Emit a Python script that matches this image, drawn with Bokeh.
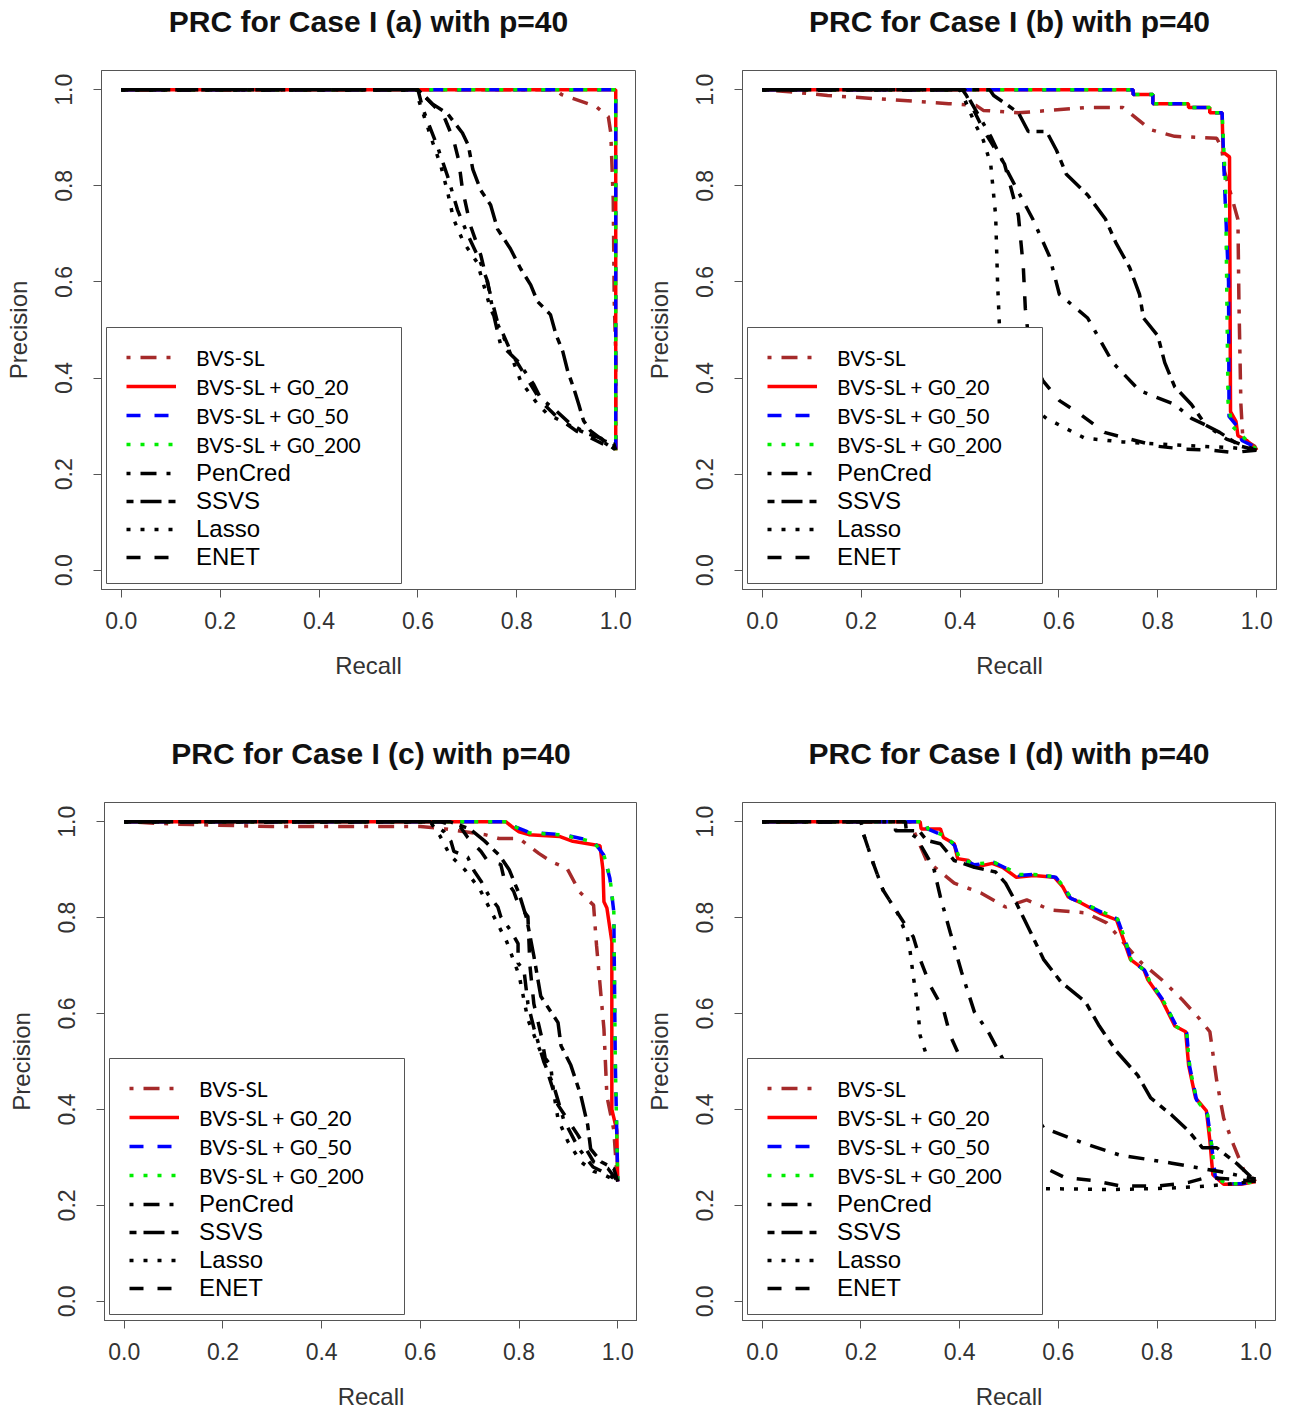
from bokeh.embed import file_html
from bokeh.layouts import column, row
from bokeh.models import (BoxAnnotation, ColumnDataSource, FixedTicker, Legend, LegendItem,
                          LinearAxis, PrintfTickFormatter, Range1d)
from bokeh.plotting import figure
from bokeh.resources import INLINE

# ---------------------------------------------------------------------------
# Precision-recall curves, one list of (recall, precision) points per method.
# ---------------------------------------------------------------------------
METHODS = ["BVS-SL", "BVS-SL + G0_20", "BVS-SL + G0_50", "BVS-SL + G0_200",
           "PenCred", "SSVS", "Lasso", "ENET"]

TITLES = ["PRC for Case I (a) with p=40", "PRC for Case I (b) with p=40",
          "PRC for Case I (c) with p=40", "PRC for Case I (d) with p=40"]

TICKS = [0.0, 0.2, 0.4, 0.6, 0.8, 1.0]
X_LABEL = "Recall"
Y_LABEL = "Precision"

# ---- Case I (a) ----
A_BVS = [(0, 1), (0.88, 1), (0.89, 0.99), (0.96, 0.965), (0.985, 0.944), (0.99, 0.91),
         (0.995, 0.77), (0.997, 0.56), (1.0, 0.45), (1.0, 0.25)]
A_G20 = [(0, 1), (1.0, 1), (1.0, 0.25)]
A_G50 = [(0, 1), (1.0, 1), (1.0, 0.25)]
A_G200 = [(0, 1), (1.0, 1), (1.0, 0.25)]
A_PEN = [(0, 1), (0.6, 1), (0.61, 0.96), (0.64, 0.88), (0.66, 0.82), (0.68, 0.75), (0.70, 0.70),
         (0.725, 0.645), (0.741, 0.6), (0.753, 0.532), (0.767, 0.47), (0.802, 0.435),
         (0.834, 0.387), (0.848, 0.358), (0.874, 0.337), (0.909, 0.304), (0.943, 0.284),
         (0.97, 0.275), (1.0, 0.25)]
A_SSVS = [(0, 1), (0.6, 1), (0.63, 0.97), (0.66, 0.95), (0.69, 0.91), (0.702, 0.884),
          (0.711, 0.834), (0.727, 0.791), (0.747, 0.76), (0.761, 0.71), (0.787, 0.669),
          (0.808, 0.627), (0.828, 0.594), (0.842, 0.559), (0.868, 0.532), (0.879, 0.491),
          (0.893, 0.455), (0.903, 0.414), (0.915, 0.379), (0.925, 0.346), (0.935, 0.311),
          (0.949, 0.29), (0.975, 0.27), (0.996, 0.263), (1.0, 0.25)]
A_LASSO = [(0, 1), (0.6, 1), (0.601, 0.98), (0.63, 0.89), (0.646, 0.843), (0.66, 0.787),
           (0.672, 0.731), (0.692, 0.683), (0.72, 0.64), (0.747, 0.544), (0.78, 0.47),
           (0.808, 0.393), (0.842, 0.346), (0.862, 0.325), (0.889, 0.311), (0.929, 0.29),
           (0.97, 0.27), (1.0, 0.25)]
A_ENET = [(0, 1), (0.6, 1), (0.626, 0.973), (0.652, 0.946), (0.672, 0.896), (0.682, 0.855),
          (0.69, 0.793), (0.706, 0.718), (0.727, 0.656), (0.745, 0.58), (0.76, 0.52),
          (0.79, 0.45), (0.82, 0.40), (0.85, 0.35), (0.88, 0.32), (0.92, 0.29), (0.96, 0.27),
          (1.0, 0.25)]

# ---- Case I (b) ----
B_BVS = [(0, 1), (0.055, 0.996), (0.132, 0.988), (0.251, 0.98), (0.377, 0.971), (0.433, 0.967),
         (0.447, 0.957), (0.518, 0.952), (0.658, 0.963), (0.729, 0.963), (0.743, 0.952),
         (0.785, 0.917), (0.834, 0.903), (0.919, 0.899), (0.929, 0.88), (0.935, 0.83),
         (0.962, 0.73), (0.964, 0.56), (0.968, 0.345), (0.972, 0.273), (0.996, 0.258), (1.0, 0.25)]
B_G20 = [(0, 1), (0.75, 1), (0.75, 0.99), (0.79, 0.99), (0.79, 0.971), (0.862, 0.971),
         (0.862, 0.963), (0.905, 0.963), (0.905, 0.952), (0.93, 0.952), (0.932, 0.87),
         (0.945, 0.86), (0.947, 0.33), (0.958, 0.31), (0.962, 0.28), (0.98, 0.27), (1.0, 0.25)]
B_G50 = [(0, 1), (0.75, 1), (0.75, 0.99), (0.79, 0.99), (0.79, 0.971), (0.862, 0.971),
         (0.862, 0.963), (0.905, 0.963), (0.905, 0.952), (0.93, 0.952), (0.935, 0.8),
         (0.943, 0.6), (0.944, 0.32), (0.96, 0.30), (0.97, 0.27), (1.0, 0.255)]
B_G200 = [(0, 1), (0.75, 1), (0.75, 0.99), (0.79, 0.99), (0.79, 0.971), (0.862, 0.971),
          (0.862, 0.963), (0.905, 0.963), (0.905, 0.952), (0.93, 0.952), (0.937, 0.8),
          (0.942, 0.35), (0.95, 0.3), (0.97, 0.28), (1.0, 0.25)]
B_PEN = [(0, 1), (0.41, 1), (0.419, 0.98), (0.462, 0.903), (0.496, 0.83), (0.547, 0.731),
         (0.581, 0.653), (0.601, 0.574), (0.658, 0.525), (0.709, 0.432), (0.763, 0.374),
         (0.834, 0.345), (0.868, 0.316), (0.897, 0.302), (0.939, 0.273), (1.0, 0.25)]
B_SSVS = [(0, 1), (0.46, 1), (0.468, 0.988), (0.518, 0.952), (0.538, 0.913), (0.575, 0.913),
          (0.595, 0.874), (0.615, 0.824), (0.658, 0.781), (0.694, 0.731), (0.715, 0.682),
          (0.743, 0.63), (0.763, 0.574), (0.771, 0.525), (0.8, 0.488), (0.814, 0.432),
          (0.834, 0.382), (0.868, 0.345), (0.897, 0.302), (0.925, 0.287), (0.968, 0.258),
          (1.0, 0.25)]
B_LASSO = [(0, 1), (0.4, 1), (0.405, 0.99), (0.43, 0.93), (0.447, 0.895), (0.462, 0.845),
           (0.472, 0.738), (0.476, 0.595), (0.48, 0.50), (0.49, 0.42), (0.52, 0.36),
           (0.575, 0.316), (0.652, 0.275), (0.729, 0.267), (0.85, 0.26), (0.95, 0.255), (1.0, 0.25)]
B_ENET = [(0, 1), (0.405, 1), (0.413, 0.988), (0.447, 0.917), (0.49, 0.845), (0.518, 0.738),
          (0.528, 0.63), (0.532, 0.545), (0.538, 0.488), (0.567, 0.395), (0.601, 0.353),
          (0.644, 0.324), (0.692, 0.287), (0.743, 0.273), (0.8, 0.258), (0.854, 0.252),
          (0.905, 0.25), (0.953, 0.245), (1.0, 0.25)]

# ---- Case I (c) ----
C_BVS = [(0, 1), (0.1, 0.995), (0.3, 0.99), (0.6, 0.99), (0.65, 0.985), (0.731, 0.973),
         (0.759, 0.965), (0.8, 0.965), (0.84, 0.934), (0.868, 0.915), (0.897, 0.903),
         (0.923, 0.853), (0.951, 0.826), (0.957, 0.742), (0.972, 0.568), (0.978, 0.428),
         (0.992, 0.357), (0.998, 0.267), (1.0, 0.25)]
C_G20 = [(0, 1), (0.773, 1), (0.785, 0.99), (0.8, 0.979), (0.82, 0.973), (0.883, 0.969),
         (0.909, 0.959), (0.964, 0.95), (0.97, 0.9), (0.972, 0.833), (0.978, 0.82),
         (0.988, 0.75), (0.988, 0.4), (0.998, 0.357), (1.0, 0.25)]
C_G50 = [(0, 1), (0.775, 1), (0.79, 0.99), (0.82, 0.978), (0.889, 0.973), (0.951, 0.959),
         (0.972, 0.93), (0.984, 0.882), (0.992, 0.812), (0.995, 0.5), (1.0, 0.25)]
C_G200 = [(0, 1), (0.775, 1), (0.79, 0.99), (0.82, 0.977), (0.889, 0.972), (0.951, 0.958),
          (0.972, 0.93), (0.984, 0.885), (0.992, 0.815), (0.995, 0.5), (1.0, 0.25)]
C_PEN = [(0, 1), (0.62, 1), (0.648, 0.979), (0.662, 0.959), (0.668, 0.938), (0.696, 0.926),
         (0.709, 0.897), (0.723, 0.876), (0.737, 0.849), (0.757, 0.822), (0.763, 0.802),
         (0.783, 0.773), (0.798, 0.746), (0.798, 0.705), (0.81, 0.69), (0.818, 0.62),
         (0.83, 0.57), (0.85, 0.5), (0.87, 0.45), (0.89, 0.38), (0.92, 0.32), (0.95, 0.28),
         (0.98, 0.265), (1.0, 0.25)]
C_SSVS = [(0, 1), (0.66, 1), (0.7, 0.985), (0.73, 0.96), (0.76, 0.93), (0.78, 0.9), (0.8, 0.85),
          (0.815, 0.8), (0.83, 0.72), (0.844, 0.636), (0.879, 0.581), (0.885, 0.533),
          (0.905, 0.492), (0.925, 0.43), (0.939, 0.368), (0.945, 0.318), (0.966, 0.291),
          (0.992, 0.277), (1.0, 0.25)]
C_LASSO = [(0, 1), (0.62, 1), (0.64, 0.97), (0.66, 0.93), (0.69, 0.9), (0.72, 0.86), (0.75, 0.8),
           (0.775, 0.75), (0.8, 0.68), (0.818, 0.587), (0.844, 0.519), (0.864, 0.492),
           (0.87, 0.436), (0.879, 0.38), (0.899, 0.333), (0.925, 0.291), (0.951, 0.271),
           (0.972, 0.264), (1.0, 0.25)]
C_ENET = [(0, 1), (0.64, 1), (0.682, 0.988), (0.696, 0.967), (0.723, 0.938), (0.737, 0.917),
          (0.763, 0.911), (0.769, 0.884), (0.789, 0.855), (0.798, 0.829), (0.818, 0.802),
          (0.822, 0.7), (0.83, 0.62), (0.845, 0.554), (0.858, 0.477), (0.879, 0.409),
          (0.919, 0.347), (0.951, 0.291), (0.98, 0.277), (1.0, 0.25)]

# ---- Case I (d) ----
D_BVS = [(0, 1), (0.3, 1), (0.304, 0.988), (0.333, 0.919), (0.389, 0.872), (0.444, 0.851),
         (0.493, 0.822), (0.536, 0.837), (0.584, 0.816), (0.655, 0.81), (0.698, 0.789),
         (0.732, 0.748), (0.767, 0.707), (0.809, 0.671), (0.85, 0.63), (0.886, 0.589),
         (0.907, 0.562), (0.921, 0.459), (0.935, 0.382), (0.955, 0.326), (0.976, 0.273),
         (1.0, 0.25)]
D_G20 = [(0, 1), (0.32, 1), (0.322, 0.985), (0.361, 0.985), (0.367, 0.967), (0.389, 0.954),
         (0.396, 0.923), (0.418, 0.919), (0.43, 0.905), (0.466, 0.913), (0.487, 0.905),
         (0.515, 0.884), (0.55, 0.888), (0.592, 0.884), (0.609, 0.864), (0.62, 0.843),
         (0.647, 0.83), (0.683, 0.81), (0.718, 0.795), (0.732, 0.754), (0.746, 0.713),
         (0.773, 0.692), (0.781, 0.671), (0.809, 0.63), (0.836, 0.574), (0.858, 0.562),
         (0.864, 0.492), (0.878, 0.424), (0.9, 0.397), (0.907, 0.335), (0.913, 0.264),
         (0.935, 0.244), (0.97, 0.244), (1.0, 0.25)]
D_G50 = [(0, 1), (0.33, 1), (0.335, 0.985), (0.37, 0.97), (0.39, 0.95), (0.398, 0.925),
         (0.43, 0.91), (0.47, 0.915), (0.49, 0.905), (0.52, 0.888), (0.55, 0.89), (0.595, 0.884),
         (0.612, 0.862), (0.625, 0.84), (0.65, 0.83), (0.69, 0.81), (0.72, 0.797), (0.735, 0.754),
         (0.748, 0.71), (0.775, 0.69), (0.785, 0.668), (0.812, 0.628), (0.84, 0.572),
         (0.86, 0.56), (0.866, 0.49), (0.88, 0.42), (0.902, 0.39), (0.91, 0.33), (0.918, 0.26),
         (0.94, 0.245), (0.97, 0.245), (1.0, 0.25)]
D_G200 = [(0, 1), (0.33, 1), (0.336, 0.985), (0.37, 0.97), (0.39, 0.952), (0.399, 0.925),
          (0.43, 0.912), (0.47, 0.915), (0.49, 0.906), (0.52, 0.89), (0.55, 0.89), (0.595, 0.885),
          (0.612, 0.862), (0.625, 0.842), (0.65, 0.83), (0.69, 0.812), (0.72, 0.797),
          (0.735, 0.756), (0.748, 0.71), (0.775, 0.69), (0.785, 0.668), (0.812, 0.628),
          (0.84, 0.572), (0.86, 0.56), (0.866, 0.49), (0.88, 0.42), (0.902, 0.39), (0.91, 0.33),
          (0.918, 0.26), (0.94, 0.245), (0.97, 0.245), (1.0, 0.25)]
D_PEN = [(0, 1), (0.29, 1), (0.292, 0.981), (0.312, 0.967), (0.347, 0.905), (0.361, 0.843),
         (0.381, 0.769), (0.404, 0.686), (0.43, 0.603), (0.458, 0.562), (0.487, 0.506),
         (0.52, 0.44), (0.57, 0.362), (0.65, 0.33), (0.724, 0.305), (0.83, 0.288),
         (0.93, 0.27), (1.0, 0.255)]
D_SSVS = [(0, 1), (0.27, 1), (0.27, 0.981), (0.318, 0.981), (0.333, 0.961), (0.361, 0.954),
          (0.389, 0.919), (0.43, 0.905), (0.473, 0.895), (0.493, 0.872), (0.515, 0.83),
          (0.544, 0.769), (0.57, 0.713), (0.606, 0.665), (0.655, 0.624), (0.683, 0.574),
          (0.718, 0.521), (0.761, 0.471), (0.787, 0.424), (0.83, 0.388), (0.864, 0.355),
          (0.892, 0.32), (0.921, 0.32), (0.963, 0.286), (1.0, 0.25)]
D_LASSO = [(0, 1), (0.2, 1), (0.205, 0.975), (0.225, 0.913), (0.245, 0.857), (0.274, 0.81),
           (0.294, 0.76), (0.3, 0.727), (0.306, 0.678), (0.314, 0.624), (0.32, 0.554),
           (0.335, 0.506), (0.35, 0.4), (0.4, 0.3), (0.5, 0.245), (0.57, 0.235), (0.7, 0.233),
           (0.8, 0.235), (0.9, 0.24), (1.0, 0.25)]
D_ENET = [(0, 1), (0.2, 1), (0.205, 0.975), (0.225, 0.913), (0.245, 0.857), (0.274, 0.81),
          (0.306, 0.76), (0.32, 0.713), (0.341, 0.657), (0.367, 0.609), (0.381, 0.554),
          (0.402, 0.506), (0.43, 0.45), (0.48, 0.36), (0.564, 0.283), (0.613, 0.258),
          (0.669, 0.252), (0.724, 0.241), (0.8, 0.24), (0.864, 0.248), (0.899, 0.258),
          (0.95, 0.255), (1.0, 0.25)]

PANELS = [
    [A_BVS, A_G20, A_G50, A_G200, A_PEN, A_SSVS, A_LASSO, A_ENET],
    [B_BVS, B_G20, B_G50, B_G200, B_PEN, B_SSVS, B_LASSO, B_ENET],
    [C_BVS, C_G20, C_G50, C_G200, C_PEN, C_SSVS, C_LASSO, C_ENET],
    [D_BVS, D_G20, D_G50, D_G200, D_PEN, D_SSVS, D_LASSO, D_ENET],
]

# ---------------------------------------------------------------------------
# Styling
# ---------------------------------------------------------------------------
LW = 3.5
DOTTED = "4 10"
DASHED = "14 14"
DOTDASH = "4 10 16 10"
TWODASH = "7 7 21 7"
LINE_STYLE = {
    "BVS-SL": ("#A52A2A", DOTDASH),
    "BVS-SL + G0_20": ("#FF0000", "solid"),
    "BVS-SL + G0_50": ("#0000FF", DASHED),
    "BVS-SL + G0_200": ("#00EE00", DOTTED),
    "PenCred": ("#000000", DOTDASH),
    "SSVS": ("#000000", TWODASH),
    "Lasso": ("#000000", DOTTED),
    "ENET": ("#000000", DASHED),
}
FRAME_GREY = "#555555"
TEXT_GREY = "#333333"
TEXT_FONT = "Liberation Sans"

# canvas size (width, height) and border (left, right, top, bottom) of each panel
PANEL_H = 707
SIZES = [(637, PANEL_H), (653, PANEL_H), (637, PANEL_H), (653, PANEL_H)]
BORDERS = [(101, 2, 68, 118), (105, 14, 70, 115), (104, 0, 91, 94), (105, 15, 95, 90)]


def make_panel(title, curves, size, borders):
    w, h = size
    bl, br, bt, bb = borders
    p = figure(width=w, height=h, output_backend="svg", toolbar_location=None,
               x_range=Range1d(-0.04, 1.04), y_range=Range1d(-0.04, 1.04),
               min_border_left=bl, min_border_right=br, min_border_top=bt,
               min_border_bottom=bb, x_axis_label=X_LABEL, y_axis_label=Y_LABEL)
    p.background_fill_color = "white"
    p.border_fill_color = "white"
    p.outline_line_color = FRAME_GREY
    p.outline_line_width = 1
    p.grid.visible = False

    for ax in (p.xaxis[0], p.yaxis[0]):
        ax.ticker = FixedTicker(ticks=TICKS)
        ax.formatter = PrintfTickFormatter(format="%.1f")
        ax.minor_tick_line_color = None
        ax.major_tick_in = 0
        ax.major_tick_out = 8
        ax.major_tick_line_color = FRAME_GREY
        ax.axis_line_color = FRAME_GREY
        ax.major_label_text_font = TEXT_FONT
        ax.major_label_text_font_size = "23px"
        ax.major_label_text_color = TEXT_GREY
        ax.axis_label_text_font = TEXT_FONT
        ax.axis_label_text_font_size = "24px"
        ax.axis_label_text_font_style = "normal"
        ax.axis_label_text_color = TEXT_GREY
    p.xaxis[0].major_label_standoff = 14
    p.xaxis[0].axis_label_standoff = 20
    p.yaxis[0].major_label_orientation = "vertical"
    p.yaxis[0].major_label_standoff = 21
    p.yaxis[0].axis_label_standoff = 21

    # panel heading carried by a bare axis along the top of the frame
    heading = LinearAxis(axis_label=title, ticker=FixedTicker(ticks=[]),
                         axis_line_color=None, major_tick_line_color=None,
                         minor_tick_line_color=None, major_tick_in=0, major_tick_out=0,
                         major_label_standoff=0, axis_label_standoff=33,
                         axis_label_text_font=TEXT_FONT, axis_label_text_font_style="bold",
                         axis_label_text_font_size="30px", axis_label_text_color="#111111")
    p.add_layout(heading, "above")

    items = []
    for name, pts in zip(METHODS, curves):
        color, dash = LINE_STYLE[name]
        src = ColumnDataSource(data=dict(recall=[pt[0] for pt in pts],
                                         precision=[pt[1] for pt in pts]))
        r = p.line("recall", "precision", source=src, line_color=color, line_width=LW,
                   line_dash=dash)
        items.append(LegendItem(label=name, renderers=[r]))

    # white legend box with a thin frame, drawn over the curves
    box = BoxAnnotation(left=5, right=300, bottom=6, top=262,
                        left_units="screen", right_units="screen",
                        bottom_units="screen", top_units="screen",
                        fill_color="white", fill_alpha=1.0,
                        line_color=FRAME_GREY, line_width=1, line_alpha=1.0)
    p.add_layout(box)

    common = dict(orientation="vertical", padding=0, margin=0,
                  glyph_width=50, glyph_height=26, label_height=26, label_standoff=20,
                  border_line_alpha=0, background_fill_alpha=0, label_text_color="black")
    top_legend = Legend(items=items[:4], location=(25, 132), label_text_font="Lato",
                        label_text_font_size="21px", spacing=3, **common)
    bottom_legend = Legend(items=items[4:], location=(25, 18), label_text_font=TEXT_FONT,
                           label_text_font_size="24px", spacing=0, **common)
    p.add_layout(top_legend)
    p.add_layout(bottom_legend)
    return p


figs = [make_panel(t, c, s, b) for t, c, s, b in zip(TITLES, PANELS, SIZES, BORDERS)]
page = column(row(figs[0], figs[1]), row(figs[2], figs[3]))

open("out.html", "w").write(file_html(page, INLINE))
